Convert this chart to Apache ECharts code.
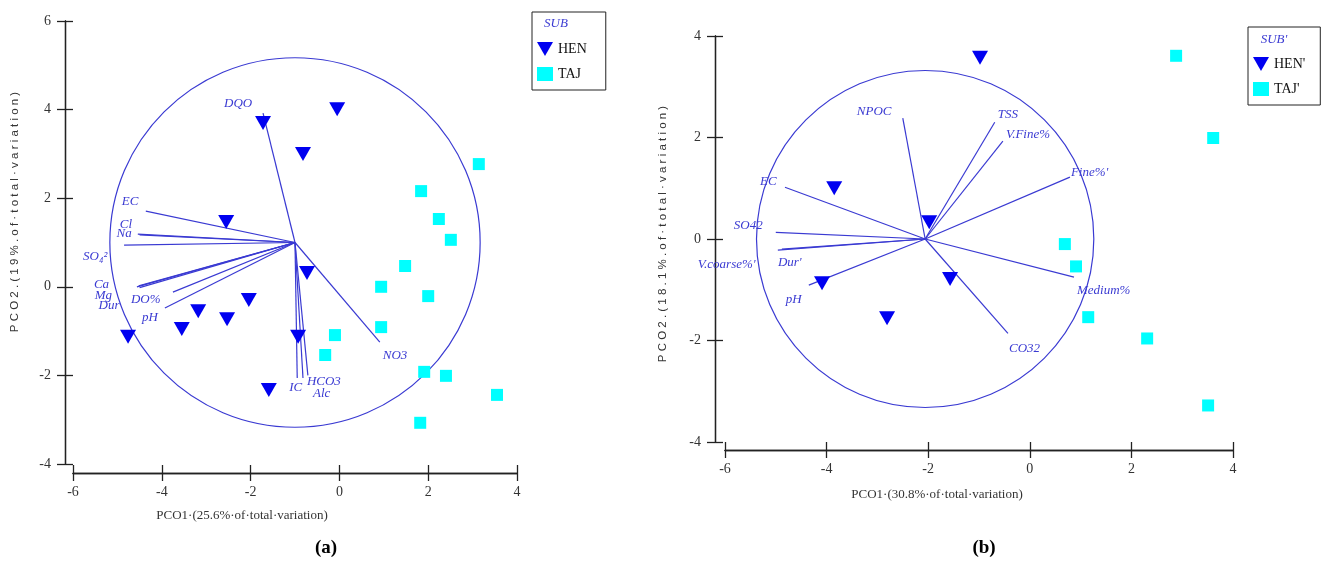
<!DOCTYPE html>
<html>
<head>
<meta charset="utf-8">
<script src="https://cdn.jsdelivr.net/npm/echarts@6/dist/echarts.min.js"></script>
<style>
  html, body { margin: 0; background: #fff; }
  #chart { width: 1323px; height: 571px; }
</style>
</head>
<body>
<div id="chart"></div>
<script>
// ---- panel (a) data ----
const xTicks = [-6, -4, -2, 0, 2, 4];
const henA = [
  [-1.72, 3.70], [-0.05, 4.01], [-0.82, 3.00], [-2.55, 1.46], [-0.73, 0.31],
  [-4.76, -1.13], [-3.55, -0.95], [-3.18, -0.55], [-2.53, -0.73], [-2.04, -0.30],
  [-0.93, -1.13], [-1.59, -2.33]
];
const tajA = [
  [3.14, 2.77], [1.84, 2.16], [2.24, 1.53], [2.51, 1.06], [1.48, 0.47],
  [0.94, 0.00], [2.00, -0.21], [0.94, -0.91], [-0.10, -1.09], [-0.32, -1.54],
  [1.91, -1.92], [2.40, -2.01], [3.55, -2.44], [1.82, -3.07]
];
const vectorNamesA = ['DQO', 'EC', 'Cl', 'Na', 'SO₄²', 'Ca', 'Mg', 'Dur', 'DO%', 'pH', 'IC', 'HCO3', 'Alc', 'NO3'];
const vectorEndsA = [
  [-1.72, 3.92], [-4.36, 1.71], [-4.54, 1.19], [-4.50, 1.17], [-4.85, 0.94],
  [-4.56, 0.00], [-4.52, 0.02], [-4.50, -0.02], [-3.75, -0.12], [-3.93, -0.48],
  [-0.95, -2.06], [-0.71, -2.00], [-0.82, -2.06], [0.91, -1.25]
];
const originA = [-1.0, 1.0];
const radiusA = 4.17;

// ---- panel (b) data ----
const henB = [
  [-0.98, 3.57], [-3.85, 1.00], [-1.98, 0.33], [-4.09, -0.87], [-1.57, -0.79], [-2.81, -1.56]
];
const tajB = [
  [2.88, 3.61], [3.61, 1.99], [0.69, -0.10], [0.91, -0.54], [1.15, -1.54], [2.31, -1.96], [3.51, -3.28]
];
const vectorNamesB = ['NPOC', 'TSS', 'V.Fine%', "Fine%'", 'EC', 'SO42', "V.coarse%'", "Dur'", 'pH', 'Medium%', 'CO32'];
const vectorEndsB = [
  [-2.50, 2.38], [-0.69, 2.30], [-0.53, 1.93], [0.79, 1.22], [-4.82, 1.02],
  [-5.00, 0.13], [-4.96, -0.22], [-4.88, -0.20], [-4.35, -0.91], [0.87, -0.75], [-0.43, -1.86]
];
const originB = [-2.06, 0.0];
const radiusB = 3.32;

// label placement (pixel offsets from vector tip)
const labelOffsetA = {
  'DQO': [-39, -10], 'EC': [-24, -9], 'Cl': [-18, -10], 'Na': [-23, -1], 'SO₄²': [-41, 11],
  'Ca': [-43, -2], 'Mg': [-44, 10], 'Dur': [-41, 18], 'DO%': [-42, 7], 'pH': [-23, 10],
  'IC': [-8, 10], 'HCO3': [-1, 6], 'Alc': [10, 16], 'NO3': [3, 13]
};
const labelOffsetB = {
  'NPOC': [-46, -7], 'TSS': [3, -8], 'V.Fine%': [3, -6], "Fine%'": [1, -5], 'EC': [-25, -6],
  'SO42': [-42, -7], "V.coarse%'": [-80, 14], "Dur'": [-4, 13], 'pH': [-23, 14],
  'Medium%': [3, 14], 'CO32': [1, 15]
};

const VEC_COLOR = '#3a3ad2';
const SERIF = '"Liberation Serif", "DejaVu Serif", serif';
const DOWN_TRIANGLE = 'path://M0,0L16,0L8,14Z';

const chart = echarts.init(document.getElementById('chart'));

function makeAxes(gridIndex, min, max, offset, isX) {
  const base = {
    type: 'value', gridIndex, min, max, interval: 2, offset,
    position: isX ? 'bottom' : 'left',
    splitLine: { show: false },
    axisLine: { show: true, onZero: false, lineStyle: { color: '#222', width: 1.3 } }
  };
  const outer = Object.assign({}, base, {
    axisTick: { show: true, length: 8, lineStyle: { color: '#222', width: 1.3 } },
    axisLabel: { color: '#333', fontFamily: SERIF, fontSize: 14, margin: isX ? 12 : 14 }
  });
  const inner = Object.assign({}, base, {
    axisTick: { show: true, inside: true, length: 8, lineStyle: { color: '#222', width: 1.3 } },
    axisLabel: { show: false }
  });
  return [outer, inner];
}

function circleSeries(xi, yi, origin, r) {
  return {
    type: 'custom', xAxisIndex: xi, yAxisIndex: yi, silent: true, z: 1,
    data: [[origin[0], origin[1], r]],
    renderItem: (params, api) => {
      const c = api.coord([api.value(0), api.value(1)]);
      const s = api.size([api.value(2), api.value(2)]);
      return {
        type: 'ellipse',
        shape: { cx: c[0], cy: c[1], rx: s[0], ry: s[1] },
        style: { fill: null, stroke: VEC_COLOR, lineWidth: 1.2 }
      };
    }
  };
}

function vectorSeries(xi, yi, origin, names, ends, offsets) {
  return {
    type: 'custom', xAxisIndex: xi, yAxisIndex: yi, silent: true, z: 2,
    data: ends.map((e, i) => ({ value: [e[0], e[1]], name: names[i] })),
    renderItem: (params, api) => {
      const o = api.coord(origin);
      const p = api.coord([api.value(0), api.value(1)]);
      const name = names[params.dataIndex];
      const off = offsets[name] || [0, 0];
      return {
        type: 'group',
        children: [
          {
            type: 'line',
            shape: { x1: o[0], y1: o[1], x2: p[0], y2: p[1] },
            style: { stroke: VEC_COLOR, lineWidth: 1.2 }
          },
          {
            type: 'text',
            x: p[0] + off[0], y: p[1] + off[1],
            style: {
              text: name, fill: VEC_COLOR, fontStyle: 'italic',
              fontFamily: SERIF, fontSize: 13, align: 'left', verticalAlign: 'middle'
            }
          }
        ]
      };
    }
  };
}

function pointSeries(name, xi, yi, data, isHen) {
  return {
    name, type: 'scatter', xAxisIndex: xi, yAxisIndex: yi, z: 5,
    data,
    symbol: isHen ? DOWN_TRIANGLE : 'rect',
    symbolSize: isHen ? [16, 14] : 12,
    itemStyle: { color: isHen ? '#0000f0' : '#00ffff', opacity: 1 }
  };
}

const xA = makeAxes(0, -6, 4, 9, true);
const xB = makeAxes(1, -6, 4, 8, true);
const yA = makeAxes(0, -4, 6, 8, false);
const yB = makeAxes(1, -4, 4, 10, false);

function legendBox(left, top, names, rightPad) {
  return {
    left, top, orient: 'vertical',
    data: [
      { name: names[0], icon: DOWN_TRIANGLE },
      { name: names[1], icon: 'rect' }
    ],
    padding: [30, rightPad, 9, 5],
    itemGap: 11, itemWidth: 16, itemHeight: 14,
    borderColor: '#222', borderWidth: 1,
    textStyle: { color: '#111', fontFamily: SERIF, fontSize: 14 },
    selectedMode: false
  };
}

function label(text, x, y, opts) {
  return {
    type: 'text', x, y, rotation: opts.rotation || 0,
    style: Object.assign({
      text, fill: '#333', fontFamily: SERIF, fontSize: 13,
      align: 'center', verticalAlign: 'middle'
    }, opts.style || {})
  };
}

chart.setOption({
  animation: false,
  backgroundColor: '#fff',
  grid: [
    { left: 73, top: 21, width: 444, height: 443 },
    { left: 725, top: 36, width: 508, height: 406 }
  ],
  xAxis: [xA[0], xA[1], xB[0], xB[1]],
  yAxis: [yA[0], yA[1], yB[0], yB[1]],
  legend: [
    legendBox(532, 12, ['HEN', 'TAJ'], 19),
    legendBox(1248, 27, ["HEN'", "TAJ'"], 15)
  ],
  graphic: [
    label('SUB', 556, 24, { style: { fill: VEC_COLOR, fontStyle: 'italic', fontSize: 13 } }),
    label("SUB'", 1274, 40, { style: { fill: VEC_COLOR, fontStyle: 'italic', fontSize: 13 } }),
    label('PCO1·(25.6%·of·total·variation)', 242, 516, {}),
    label('PCO1·(30.8%·of·total·variation)', 937, 495, {}),
    label('P C O 2 . ( 1 9 % . o f · t o t a l · v a r i a t i o n )', 15, 212,
      { rotation: Math.PI / 2, style: { fontFamily: '"Liberation Sans", sans-serif', fontSize: 11.5 } }),
    label('P C O 2 . ( 1 8 . 1 % . o f · t o t a l · v a r i a t i o n )', 663, 234,
      { rotation: Math.PI / 2, style: { fontFamily: '"Liberation Sans", sans-serif', fontSize: 11.5 } }),
    label('(a)', 326, 548, { style: { fill: '#000', fontWeight: 'bold', fontSize: 19 } }),
    label('(b)', 984, 548, { style: { fill: '#000', fontWeight: 'bold', fontSize: 19 } })
  ],
  series: [
    circleSeries(0, 0, originA, radiusA),
    vectorSeries(0, 0, originA, vectorNamesA, vectorEndsA, labelOffsetA),
    pointSeries('HEN', 0, 0, henA, true),
    pointSeries('TAJ', 0, 0, tajA, false),
    circleSeries(2, 2, originB, radiusB),
    vectorSeries(2, 2, originB, vectorNamesB, vectorEndsB, labelOffsetB),
    pointSeries("HEN'", 2, 2, henB, true),
    pointSeries("TAJ'", 2, 2, tajB, false)
  ]
});
</script>
</body>
</html>
